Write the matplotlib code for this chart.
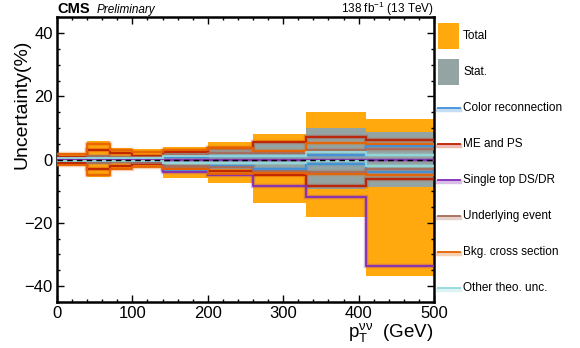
import matplotlib
matplotlib.use("Agg")
import matplotlib.pyplot as plt
from matplotlib.patches import Rectangle
from matplotlib.lines import Line2D
from matplotlib.ticker import MultipleLocator

plt.rcParams["font.family"] = ["Liberation Sans", "DejaVu Sans"]
plt.rcParams["mathtext.fontset"] = "custom"
plt.rcParams["mathtext.rm"] = "Liberation Sans"
plt.rcParams["mathtext.it"] = "Liberation Sans:italic"
plt.rcParams["mathtext.bf"] = "Liberation Sans:bold"

# Bin edges in pT (GeV)
edges = [0, 40, 70, 100, 140, 200, 260, 330, 410, 500]

# Relative uncertainties (%) per bin: upward / downward
total_up = [2.2, 5.8, 3.5, 3.2, 3.8, 5.4, 8.0, 15.0, 12.7]
total_dn = [-2.2, -5.5, -3.2, -2.5, -5.9, -7.4, -13.8, -18.3, -36.8]
stat_up = [1.0, 1.5, 1.2, 1.5, 2.5, 3.3, 5.4, 9.9, 8.6]
stat_dn = [-1.0, -1.5, -1.2, -1.5, -3.0, -3.0, -4.6, -9.3, -8.6]

cr_up = [0.3, 0.4, 0.3, 0.5, 0.8, 1.0, 1.0, 1.5, 4.4]
cr_dn = [-0.4, -0.5, -0.4, -0.8, -3.3, -2.0, -3.0, -1.4, -3.9]
meps_up = [0.9, 3.0, 2.0, 1.0, 2.5, 3.6, 5.4, 7.0, 6.3]
meps_dn = [-1.2, -3.0, -2.2, -1.5, -3.0, -3.6, -4.9, -8.3, -6.2]
st_up = [0.0, 0.0, 0.0, 0.0, 0.0, 0.0, 0.0, 0.0, 0.0]
st_dn = [-0.3, -0.5, -0.5, -0.8, -3.8, -5.0, -8.5, -12.0, -33.6]
ue_up = [0.5, 1.0, 0.8, 0.8, 1.5, 2.0, 2.0, 3.0, 3.3]
ue_dn = [-0.5, -1.0, -0.8, -1.0, -2.0, -2.5, -3.5, -4.0, -3.0]
bkg_up = [1.8, 5.0, 3.0, 2.5, 3.0, 3.5, 2.8, 5.1, 5.0]
bkg_dn = [-1.8, -5.0, -3.0, -2.5, -3.0, -4.5, -4.3, -4.6, -4.9]
oth_up = [0.5, 0.5, 0.5, 0.5, 1.0, 1.0, 1.0, 2.3, 1.3]
oth_dn = [-0.5, -0.5, -0.5, -0.5, -1.0, -1.0, -1.2, -0.6, -2.0]

labels = ["Total", "Stat.", "Color reconnection", "ME and PS",
          "Single top DS/DR", "Underlying event", "Bkg. cross section",
          "Other theo. unc."]

c_total = "#ffa90e"
c_stat = "#94a4a2"
systs = [
    (cr_up, cr_dn, "#3f90da"),
    (meps_up, meps_dn, "#bd1f01"),
    (st_up, st_dn, "#832db6"),
    (ue_up, ue_dn, "#a96b59"),
    (bkg_up, bkg_dn, "#e76300"),
    (oth_up, oth_dn, "#92dadd"),
]

W, H = 580, 348
fig = plt.figure(figsize=(W / 100, H / 100), dpi=100)
ax = fig.add_axes([57 / W, 1 - 301.7 / H, 377 / W, 284.4 / H])

ax.stairs(total_up, edges, baseline=total_dn, fill=True, color=c_total, lw=0, zorder=1)
ax.stairs(stat_up, edges, baseline=stat_dn, fill=True, color=c_stat, lw=0, zorder=2)

for up, dn, col in systs:
    for vals in (up, dn):
        ax.stairs(vals, edges, baseline=None, color=col, lw=3.2, alpha=0.3, zorder=3)
        ax.stairs(vals, edges, baseline=None, color=col, lw=1.3, zorder=4)

ax.axhline(0, color="black", lw=1.0, ls=(0, (4, 3)), zorder=6)

ax.set_xlim(0, 500)
ax.set_ylim(-45, 45)
ax.xaxis.set_major_locator(MultipleLocator(100))
ax.xaxis.set_minor_locator(MultipleLocator(20))
ax.yaxis.set_major_locator(MultipleLocator(20))
ax.yaxis.set_minor_locator(MultipleLocator(5))
ax.tick_params(which="both", direction="in", top=True, right=True, width=1.0)
ax.tick_params(which="major", length=5, labelsize=12, pad=3)
ax.tick_params(which="minor", length=2.5)
for sp in ax.spines.values():
    sp.set_linewidth(1.8)

tr = fig.transFigure


def fx(px):
    return px / W


def fy(py):
    return 1 - py / H


fig.text(fx(22), fy(104), "Uncertainty(%)", rotation=90, ha="center", va="center",
         fontsize=14)
fig.text(fx(434), fy(337), r"$\mathrm{p}_{\mathrm{T}}^{\mathrm{νν}}$  (GeV)", ha="right",
         va="baseline", fontsize=13.5)
fig.text(fx(57), fy(9), "CMS", ha="left", va="center", fontsize=10.5, fontweight="bold")
fig.text(fx(97), fy(9.5), "Preliminary", ha="left", va="center", fontsize=8.5,
         style="italic")
fig.text(fx(434), fy(9), r"138 fb$^{-1}$ (13 TeV)", ha="right", va="center",
         fontsize=8.5)

# Legend drawn beside the axes
leg_y0, leg_dy = 36, 36
for i, lab in enumerate(labels):
    yc = leg_y0 + i * leg_dy
    if i < 2:
        col = c_total if i == 0 else c_stat
        fig.patches.append(Rectangle((fx(438), fy(yc + 12.5)), 21 / W, 25 / H,
                                     transform=tr, color=col, lw=0))
    else:
        col = systs[i - 2][2]
        fig.lines.append(Line2D([fx(438), fx(460)], [fy(yc + 1.5), fy(yc + 1.5)],
                                transform=tr, color=col, lw=3.2, alpha=0.3))
        fig.lines.append(Line2D([fx(438), fx(460)], [fy(yc), fy(yc)], transform=tr,
                                color=col, lw=1.3))
    fig.text(fx(463), fy(yc), lab, ha="left", va="center", fontsize=8.5)

fig.savefig("out.png", dpi=100)
